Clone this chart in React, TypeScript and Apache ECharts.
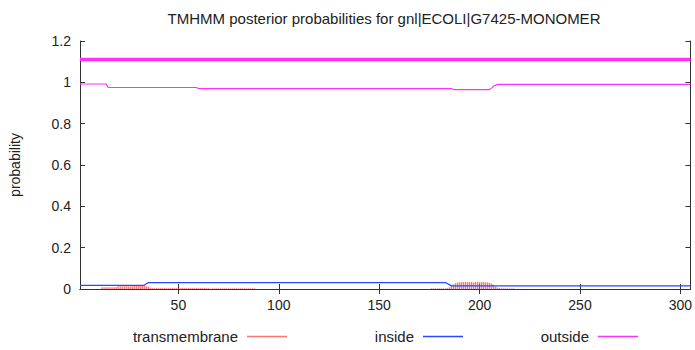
import React, { useEffect, useRef } from "react";
import * as echarts from "echarts";

const titleText = "TMHMM posterior probabilities for gnl|ECOLI|G7425-MONOMER";
const seqStart = 1;
const seqEnd = 305;
const xTicks = [50, 100, 150, 200, 250, 300];
const yMin = 0;
const yMax = 1.2;
const yStep = 0.2;

// outside probability (step line), [position, value]
const outsidePts: [number, number][] = [
  [1, 0.992], [14, 0.992], [15, 0.975], [59, 0.975], [60, 0.97],
  [186, 0.97], [187, 0.965], [205, 0.965], [206, 0.972], [207, 0.982],
  [209, 0.99], [305, 0.99],
];

// inside probability, [position, value]
const insidePts: [number, number][] = [
  [1, 0.018], [33, 0.018], [35, 0.031], [183, 0.031], [186, 0.015], [305, 0.015],
];

// topology header line (all outside)
const topologyLevel = 1.11;

// transmembrane probability impulses
const tmStartA = 12;
const tmValuesA = [
  0.008, 0.008, 0.008, 0.009, 0.009, 0.009, 0.009, 0.010,
  0.013, 0.013, 0.013, 0.013, 0.013, 0.013, 0.013, 0.013,
  0.014, 0.014, 0.014, 0.014, 0.014, 0.014, 0.013, 0.012,
  0.006,
  0.004, 0.004, 0.004, 0.004, 0.004, 0.004, 0.004, 0.004, 0.004, 0.004,
  0.004, 0.004, 0.004, 0.004, 0.004, 0.004, 0.004, 0.004, 0.004, 0.004,
  0.004, 0.004, 0.004, 0.004, 0.004, 0.004, 0.004, 0.004, 0.004,
  0.001,
  0.003, 0.003, 0.003, 0.003, 0.003, 0.003, 0.003, 0.003, 0.003, 0.003,
  0.003, 0.003, 0.003, 0.003, 0.003, 0.003, 0.003, 0.003, 0.003, 0.003,
  0.003, 0.003,
];
const tmStartB = 176;
const tmValuesB = [
  0.003, 0.003, 0.003, 0.003, 0.003, 0.003, 0.003, 0.003, 0.004,
  0.008, 0.015, 0.022, 0.028, 0.031, 0.033, 0.033, 0.034, 0.034,
  0.034, 0.034, 0.034, 0.031, 0.034, 0.034, 0.034, 0.034, 0.034,
  0.033, 0.032, 0.030, 0.026, 0.020, 0.012, 0.006, 0.004,
  0.003, 0.003, 0.003, 0.003, 0.003, 0.003, 0.003,
];

const FONT = "'Liberation Sans', Arial, sans-serif";
const RED = "#ff3c3c";
const BLUE = "#2a48ff";
const MAGENTA = "#ff30ff";

export default function App() {
  const ref = useRef<HTMLDivElement>(null);
  useEffect(() => {
    if (!ref.current) return;
    const chart = echarts.init(ref.current, undefined, { renderer: "svg" });
    const tmData = [
      ...tmValuesA.map((v, i) => [tmStartA + i, v]),
      ...tmValuesB.map((v, i) => [tmStartB + i, v]),
    ];
    const frame = { show: true, lineStyle: { color: "#333", width: 1 } };
    const tick = { show: true, inside: true, length: 5, lineStyle: { color: "#333" } };
    const legendBase = {
      orient: "horizontal",
      align: "right",
      top: 329,
      padding: 0,
      itemWidth: 40,
      itemHeight: 1.5,
      textStyle: { fontFamily: FONT, fontSize: 15, color: "#222", padding: [0, 4, 0, 0] },
      selectedMode: false,
    };
    chart.setOption({
      animation: false,
      backgroundColor: "#fff",
      grid: { left: 76, right: 3, top: 41, bottom: 61, containLabel: false },
      graphic: [
        {
          type: "text",
          x: 384,
          y: 18,
          style: {
            text: titleText,
            fontFamily: FONT,
            fontSize: 15,
            fill: "#222",
            textAlign: "center",
            textVerticalAlign: "middle",
          },
        },
      ],
      legend: [
        { ...legendBase, right: 695 - 287, data: [{ name: "transmembrane", icon: "rect" }] },
        { ...legendBase, right: 695 - 463, data: [{ name: "inside", icon: "rect" }] },
        { ...legendBase, right: 695 - 638, data: [{ name: "outside", icon: "rect" }] },
      ],
      xAxis: [
        {
          type: "value",
          min: seqStart,
          max: seqEnd,
          position: "bottom",
          axisLine: frame,
          axisTick: { ...tick, customValues: xTicks },
          axisLabel: {
            customValues: xTicks,
            fontFamily: FONT,
            fontSize: 14,
            color: "#222",
            margin: 9,
          },
          splitLine: { show: false },
        },
        {
          type: "value",
          min: seqStart,
          max: seqEnd,
          position: "top",
          axisLine: frame,
          axisTick: { ...tick, customValues: xTicks },
          axisLabel: { show: false },
          splitLine: { show: false },
        },
      ],
      yAxis: [
        {
          type: "value",
          min: yMin,
          max: yMax,
          interval: yStep,
          position: "left",
          name: "probability",
          nameLocation: "middle",
          nameGap: 58,
          nameTextStyle: { fontFamily: FONT, fontSize: 14, color: "#222" },
          axisLine: frame,
          axisTick: tick,
          axisLabel: {
            fontFamily: FONT,
            fontSize: 14,
            color: "#222",
            margin: 9,
            formatter: (v: number) => String(Math.round(v * 10) / 10),
          },
          splitLine: { show: false },
        },
        {
          type: "value",
          min: yMin,
          max: yMax,
          interval: yStep,
          position: "right",
          axisLine: frame,
          axisTick: tick,
          axisLabel: { show: false },
          splitLine: { show: false },
        },
      ],
      series: [
        {
          name: "transmembrane",
          type: "bar",
          data: tmData,
          barWidth: 1.4,
          itemStyle: { color: RED, opacity: 0.7 },
          silent: true,
        },
        {
          name: "inside",
          type: "line",
          data: insidePts,
          symbol: "none",
          lineStyle: { color: BLUE, width: 1.2 },
          itemStyle: { color: BLUE },
          z: 3,
        },
        {
          name: "outside",
          type: "line",
          data: outsidePts,
          symbol: "none",
          lineStyle: { color: MAGENTA, width: 1.2 },
          itemStyle: { color: MAGENTA },
          z: 3,
        },
        {
          name: "topology",
          type: "line",
          data: [
            [seqStart, topologyLevel],
            [seqEnd, topologyLevel],
          ],
          symbol: "none",
          lineStyle: { color: MAGENTA, width: 3.5 },
          z: 3,
        },
      ],
    });
    return () => chart.dispose();
  }, []);
  return <div ref={ref} style={{ width: 695, height: 350, position: "fixed", left: 0, top: 0 }} />;
}
